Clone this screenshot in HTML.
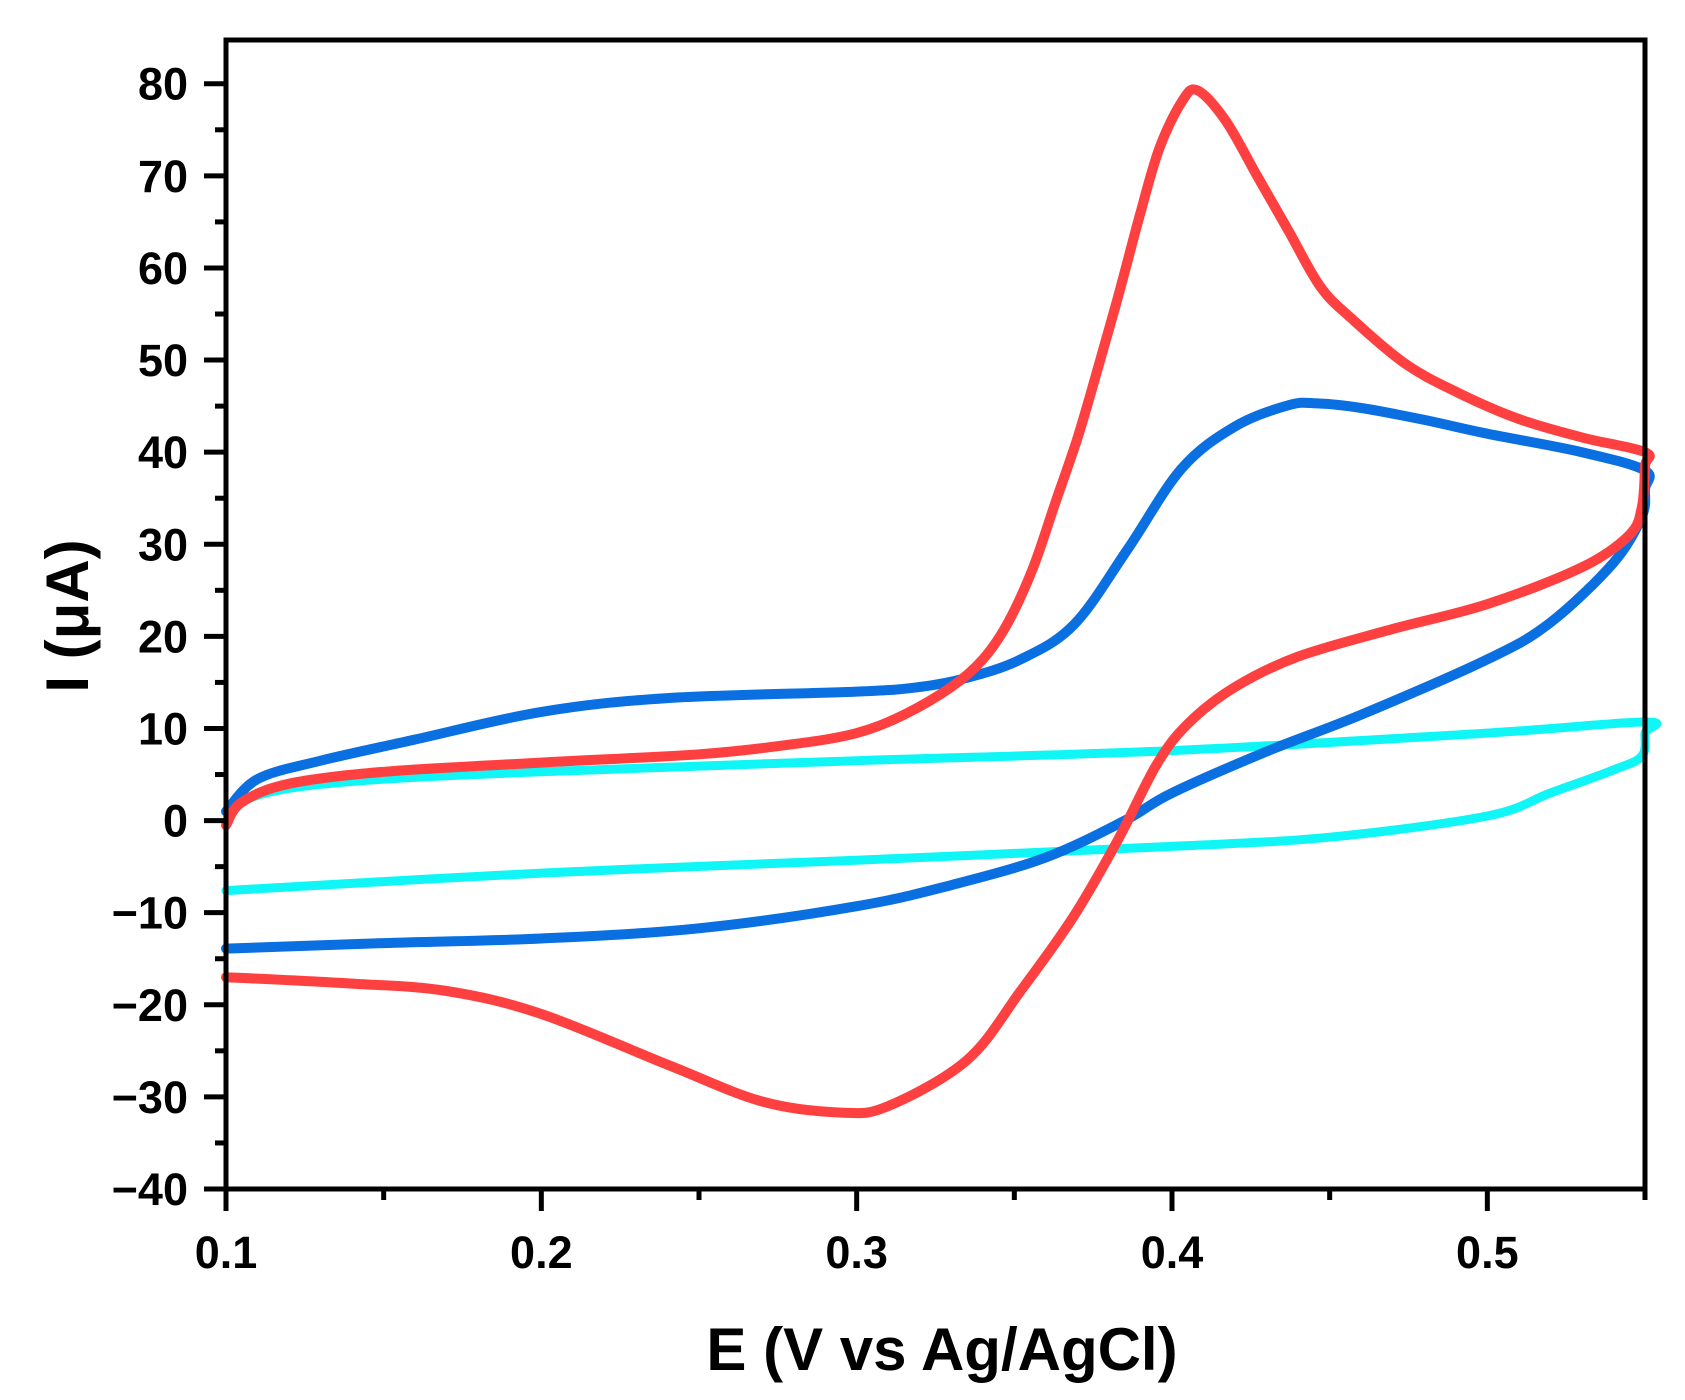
<!DOCTYPE html>
<html><head><meta charset="utf-8"><style>
html,body{margin:0;padding:0;background:#fff;}
svg{display:block;font-family:"Liberation Sans",Arial,sans-serif;font-weight:bold;}
</style></head><body>
<svg id="chart" width="1685" height="1400" viewBox="0 0 1685 1400" xmlns="http://www.w3.org/2000/svg">
<g id="series"></g>
<g id="axes"></g>
<text x="942" y="1370" font-size="60" text-anchor="middle">E (V vs Ag/AgCl)</text>
<text transform="translate(88,616) rotate(-90)" font-size="60" text-anchor="middle">I (μA)</text>
</svg>
<script>
const xTicks = [0.1, 0.2, 0.3, 0.4, 0.5];
const xTickLabels = ["0.1", "0.2", "0.3", "0.4", "0.5"];
const yTicks = [-40, -30, -20, -10, 0, 10, 20, 30, 40, 50, 60, 70, 80];
const yTickLabels = ["\u221240", "\u221230", "\u221220", "\u221210", "0", "10", "20", "30", "40", "50", "60", "70", "80"];
const redE = [0.1,0.105,0.12,0.15,0.2,0.25,0.28,0.3,0.315,0.33,0.34,0.348,0.356,0.363,0.37,0.376,0.383,0.39,0.396,0.403,0.408,0.417,0.427,0.437,0.447,0.457,0.474,0.491,0.51,0.53,0.55,0.55,0.549,0.545,0.53,0.50,0.47,0.44,0.42,0.405,0.395,0.383,0.369,0.352,0.335,0.31,0.295,0.27,0.24,0.2,0.17,0.14,0.1];
const redI = [-0.5,2,4,5.3,6.3,7.2,8.3,9.5,11.5,14.5,17.5,21.5,27.5,34.5,41.5,48.5,57,66,73,78,79.3,76,70,64,58,54.5,49.6,46.4,43.6,41.6,40,38.5,34,31,27.5,23.5,20.8,17.8,14.5,10.5,6,-2,-10.3,-18.5,-26,-31,-31.7,-30.5,-26.5,-21,-18.5,-17.7,-17];
const blueE = [0.1,0.11,0.13,0.16,0.2,0.24,0.3,0.32,0.335,0.352,0.369,0.386,0.403,0.42,0.437,0.446,0.46,0.48,0.5,0.53,0.55,0.55,0.549,0.54,0.52,0.5,0.46,0.43,0.40,0.385,0.36,0.33,0.3,0.25,0.2,0.15,0.1];
const blueI = [1,4.5,6.5,8.8,11.8,13.3,14,14.5,15.5,17.5,21.3,29.5,38.2,42.8,45.1,45.3,44.8,43.5,42,40,38,36,33,28,21.5,17.5,11.5,7.5,3,0,-4,-7,-9.3,-11.7,-12.8,-13.3,-13.9];
const cyanE = [0.1,0.105,0.12,0.15,0.2,0.3,0.4,0.5,0.55,0.55,0.549,0.54,0.52,0.5,0.45,0.4,0.3,0.2,0.1];
const cyanI = [-0.5,2,3.5,4.5,5.3,6.5,7.6,9.5,10.7,9.5,7,5.5,3,0.5,-1.8,-2.8,-4.3,-5.7,-7.6];

const X0=226, X1=1645, Y0=1189, Y1=40;
const xMin=0.1, xMax=0.55, yMin=-40, yMax=84.75;
function sx(v){return X0+(v-xMin)/(xMax-xMin)*(X1-X0);}
function sy(v){return Y0-(v-yMin)/(yMax-yMin)*(Y0-Y1);}
const NS="http://www.w3.org/2000/svg";
function mk(tag,attrs,parent){const e=document.createElementNS(NS,tag);for(const k in attrs)e.setAttribute(k,attrs[k]);parent.appendChild(e);return e;}
function pathFrom(E,I){
  const p=E.map((e,i)=>[sx(e),sy(I[i])]);
  let d="M"+p[0][0].toFixed(1)+","+p[0][1].toFixed(1);
  for(let i=0;i<p.length-1;i++){
    const a=p[Math.max(0,i-1)],b=p[i],c=p[i+1],n=p[Math.min(p.length-1,i+2)];
    const c1=[b[0]+(c[0]-a[0])/6,b[1]+(c[1]-a[1])/6],c2=[c[0]-(n[0]-b[0])/6,c[1]-(n[1]-b[1])/6];
    d+=" C"+c1[0].toFixed(1)+","+c1[1].toFixed(1)+" "+c2[0].toFixed(1)+","+c2[1].toFixed(1)+" "+c[0].toFixed(1)+","+c[1].toFixed(1);
  }
  return d;
}
const sg=document.getElementById('series');
const cyan=mk('path',{d:pathFrom(cyanE,cyanI),fill:'none',stroke:'#10f5f5','stroke-width':9,'stroke-linejoin':'round','stroke-linecap':'round'},sg);


const blue=mk('path',{d:pathFrom(blueE,blueI),fill:'none',stroke:'#0a6fe0','stroke-width':10,'stroke-linejoin':'round','stroke-linecap':'round'},sg);


const red=mk('path',{d:pathFrom(redE,redI),fill:'none',stroke:'#ff4040','stroke-width':10,'stroke-linejoin':'round','stroke-linecap':'round'},sg);



const ag=document.getElementById('axes');
const frame=mk('rect',{x:X0,y:Y1,width:X1-X0,height:Y0-Y1,fill:'none',stroke:'#000','stroke-width':5},ag);


yTicks.forEach((v,i)=>{
  const y=sy(v);
  const t=mk('line',{x1:X0-22,x2:X0,y1:y,y2:y,stroke:'#000','stroke-width':5},ag);
  
  
  if(i<yTicks.length-1){
    const ym=sy(v+5);
    const m=mk('line',{x1:X0-11,x2:X0,y1:ym,y2:ym,stroke:'#000','stroke-width':5},ag);
    
    
  }
  const l=mk('text',{x:188,y:y+16,'font-size':45,'text-anchor':'end'},ag);
  l.textContent=yTickLabels[i];
  
  
});
xTicks.forEach((v,i)=>{
  const x=sx(v);
  const t=mk('line',{x1:x,x2:x,y1:Y0,y2:Y0+22,stroke:'#000','stroke-width':5},ag);
  
  
  const xm=sx(v+0.05);
  const m=mk('line',{x1:xm,x2:xm,y1:Y0,y2:Y0+11,stroke:'#000','stroke-width':5},ag);
  
  
  const l=mk('text',{x:x,y:1268,'font-size':45,'text-anchor':'middle'},ag);
  l.textContent=xTickLabels[i];
  
  
});
</script>
</body></html>
